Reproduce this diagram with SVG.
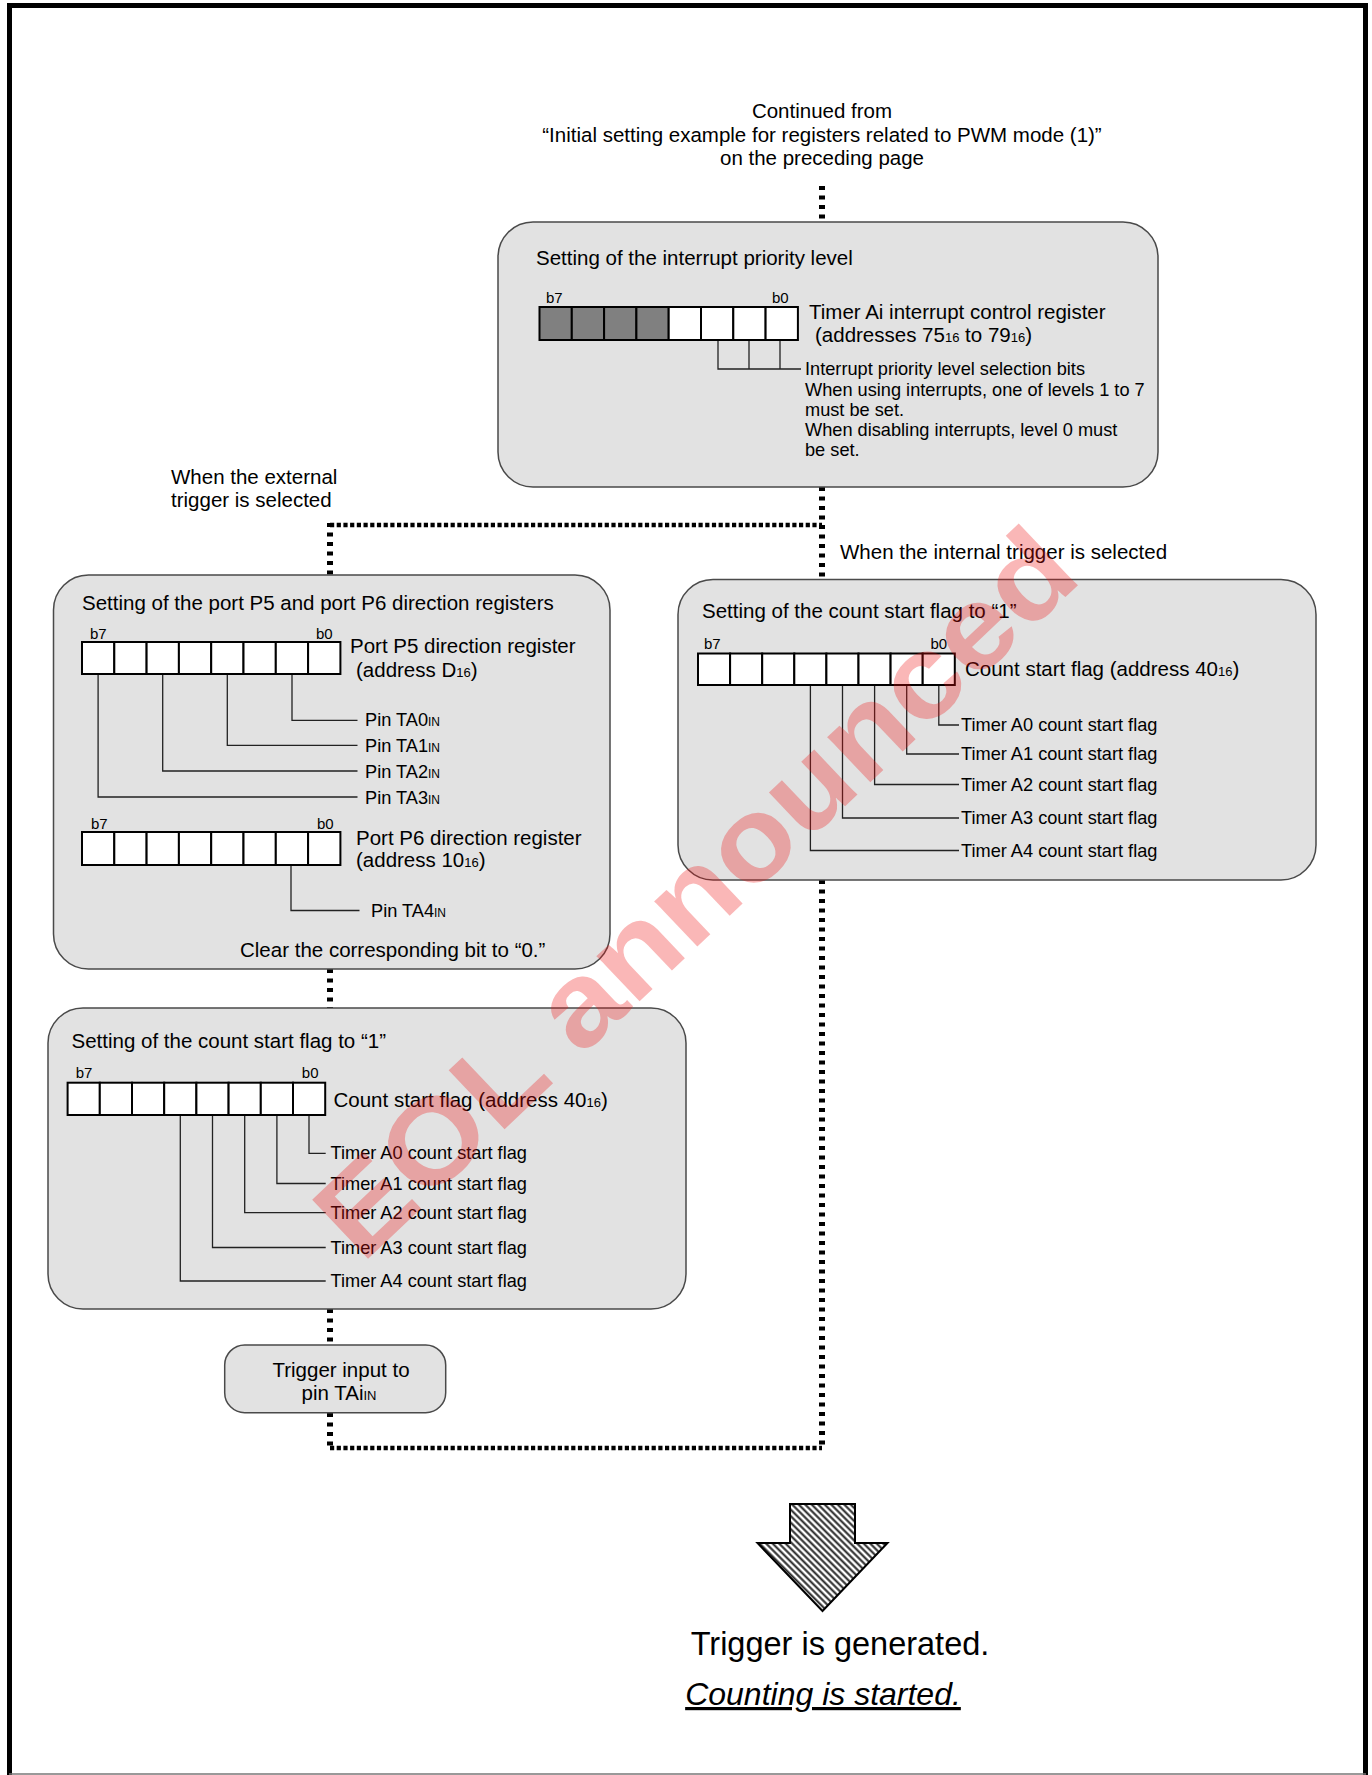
<svg xmlns="http://www.w3.org/2000/svg" width="1372" height="1775" viewBox="0 0 1372 1775">
<defs>
<style>
text{font-family:"Liberation Sans",Arial,sans-serif;fill:#000}
.t20{font-size:20.5px}
.t18{font-size:18.2px}
.bl{font-size:15px}
.sub{font-size:13px}
.sub12{font-size:12px}
.box{fill:#e2e2e2;stroke:#4a4a4a;stroke-width:1.5}
.cell{fill:#fff;stroke:#000;stroke-width:2}
.cellg{fill:#808080;stroke:#000;stroke-width:2}
.lead{fill:none;stroke:#222;stroke-width:1.3}
.dv{fill:none;stroke:#000;stroke-width:6;stroke-dasharray:4 5.5}
.dh{fill:none;stroke:#000;stroke-width:4.5;stroke-dasharray:4.2 2.5}
</style>
<pattern id="hatch" width="4.6" height="4.6" patternUnits="userSpaceOnUse" patternTransform="rotate(-45)">
<rect width="4.6" height="4.6" fill="#fff"/>
<line x1="2.3" y1="0" x2="2.3" y2="4.6" stroke="#222" stroke-width="2"/>
</pattern>
</defs>
<rect x="0" y="0" width="1372" height="1775" fill="#fff"/>
<rect x="9.5" y="5.5" width="1356" height="1800" fill="none" stroke="#000" stroke-width="5"/>
<line x1="9" y1="1774" x2="1366" y2="1774" stroke="#777" stroke-width="1.5"/>

<g id="continued-label">
<text class="t20" x="822" y="118" text-anchor="middle">Continued from</text>
<text class="t20" x="822" y="141.7" text-anchor="middle">“Initial setting example for registers related to PWM mode (1)”</text>
<text class="t20" x="822" y="165" text-anchor="middle">on the preceding page</text>
</g>

<g id="connectors">
<line class="dv" x1="822" y1="186" x2="822" y2="222"/>
<line class="dv" x1="822" y1="487" x2="822" y2="580"/>
<line class="dh" x1="330" y1="525" x2="822" y2="525"/>
<line class="dv" x1="330" y1="523" x2="330" y2="575"/>
<line class="dv" x1="330" y1="969" x2="330" y2="1008"/>
<line class="dv" x1="330" y1="1309" x2="330" y2="1345"/>
<line class="dv" x1="330" y1="1413" x2="330" y2="1448"/>
<line class="dh" x1="330" y1="1448" x2="822" y2="1448"/>
<line class="dv" x1="822" y1="880" x2="822" y2="1450"/>
</g>

<g id="label-external">
<text class="t20" x="171" y="484.4">When the external</text>
<text class="t20" x="171" y="506.8">trigger is selected</text>
</g>
<g id="label-internal">
<text class="t20" x="840" y="559">When the internal trigger is selected</text>
</g>

<g id="box-interrupt-priority">
<rect class="box" x="498" y="222" width="660" height="265" rx="35"/>
<text class="t20" x="536" y="265">Setting of the interrupt priority level</text>
<text class="bl" x="546" y="303">b7</text>
<text class="bl" x="772" y="303">b0</text>
<rect class="cellg" x="539.5" y="307" width="32.3" height="33"/>
<rect class="cellg" x="571.8" y="307" width="32.3" height="33"/>
<rect class="cellg" x="604.1" y="307" width="32.3" height="33"/>
<rect class="cellg" x="636.4" y="307" width="32.3" height="33"/>
<rect class="cell" x="668.7" y="307" width="32.3" height="33"/>
<rect class="cell" x="701" y="307" width="32.3" height="33"/>
<rect class="cell" x="733.3" y="307" width="32.3" height="33"/>
<rect class="cell" x="765.6" y="307" width="32.3" height="33"/>
<text class="t20" x="809" y="319">Timer Ai interrupt control register</text>
<text class="t20" x="815" y="342">(addresses 75<tspan class="sub">16</tspan> to 79<tspan class="sub">16</tspan>)</text>
<path class="lead" d="M718 341V369H801M749 341V369M780 341V369"/>
<text class="t18" x="805" y="375">Interrupt priority level selection bits</text>
<text class="t18" x="805" y="395.5">When using interrupts, one of levels 1 to 7</text>
<text class="t18" x="805" y="415.5">must be set.</text>
<text class="t18" x="805" y="436">When disabling interrupts, level 0 must</text>
<text class="t18" x="805" y="456">be set.</text>
</g>

<g id="box-port-direction">
<rect class="box" x="53.5" y="575" width="556.5" height="394" rx="35"/>
<text class="t20" x="82" y="610">Setting of the port P5 and port P6 direction registers</text>
<text class="bl" x="90" y="638.7">b7</text>
<text class="bl" x="316" y="638.7">b0</text>
<rect class="cell" x="82" y="642" width="32.3" height="32"/>
<rect class="cell" x="114.3" y="642" width="32.3" height="32"/>
<rect class="cell" x="146.6" y="642" width="32.3" height="32"/>
<rect class="cell" x="178.9" y="642" width="32.3" height="32"/>
<rect class="cell" x="211.2" y="642" width="32.3" height="32"/>
<rect class="cell" x="243.5" y="642" width="32.3" height="32"/>
<rect class="cell" x="275.8" y="642" width="32.3" height="32"/>
<rect class="cell" x="308.1" y="642" width="32.3" height="32"/>
<text class="t20" x="350" y="653">Port P5 direction register</text>
<text class="t20" x="356" y="676.5">(address D<tspan class="sub">16</tspan>)</text>
<path class="lead" d="M292 675V720.3H357.5M227.3 675V745.4H357.5M162.7 675V771H357.5M98.1 675V797H357.5"/>
<text class="t18" x="365" y="726">Pin TA0<tspan class="sub12">IN</tspan></text>
<text class="t18" x="365" y="751.5">Pin TA1<tspan class="sub12">IN</tspan></text>
<text class="t18" x="365" y="777.5">Pin TA2<tspan class="sub12">IN</tspan></text>
<text class="t18" x="365" y="803.5">Pin TA3<tspan class="sub12">IN</tspan></text>
<text class="bl" x="91" y="828.8">b7</text>
<text class="bl" x="317" y="828.8">b0</text>
<rect class="cell" x="82" y="832" width="32.3" height="33"/>
<rect class="cell" x="114.3" y="832" width="32.3" height="33"/>
<rect class="cell" x="146.6" y="832" width="32.3" height="33"/>
<rect class="cell" x="178.9" y="832" width="32.3" height="33"/>
<rect class="cell" x="211.2" y="832" width="32.3" height="33"/>
<rect class="cell" x="243.5" y="832" width="32.3" height="33"/>
<rect class="cell" x="275.8" y="832" width="32.3" height="33"/>
<rect class="cell" x="308.1" y="832" width="32.3" height="33"/>
<text class="t20" x="356" y="844.5">Port P6 direction register</text>
<text class="t20" x="356" y="866.5">(address 10<tspan class="sub">16</tspan>)</text>
<path class="lead" d="M291 866V910.5H359.5"/>
<text class="t18" x="371" y="917">Pin TA4<tspan class="sub12">IN</tspan></text>
<text class="t20" x="240" y="956.5">Clear the corresponding bit to “0.”</text>
</g>

<g id="box-count-start-internal">
<rect class="box" x="678" y="579.5" width="638" height="300.5" rx="35"/>
<text class="t20" x="702" y="617.5">Setting of the count start flag to “1”</text>
<text class="bl" x="704" y="649">b7</text>
<text class="bl" x="930.5" y="649">b0</text>
<rect class="cell" x="698" y="653.5" width="32.1" height="31.5"/>
<rect class="cell" x="730.1" y="653.5" width="32.1" height="31.5"/>
<rect class="cell" x="762.2" y="653.5" width="32.1" height="31.5"/>
<rect class="cell" x="794.3" y="653.5" width="32.1" height="31.5"/>
<rect class="cell" x="826.4" y="653.5" width="32.1" height="31.5"/>
<rect class="cell" x="858.5" y="653.5" width="32.1" height="31.5"/>
<rect class="cell" x="890.6" y="653.5" width="32.1" height="31.5"/>
<rect class="cell" x="922.7" y="653.5" width="32.1" height="31.5"/>
<text class="t20" x="965" y="676">Count start flag (address 40<tspan class="sub">16</tspan>)</text>
<path class="lead" d="M938.8 686V725H959M906.7 686V754H959M874.6 686V784.5H959M842.5 686V818H959M810.4 686V850.5H959"/>
<text class="t18" x="961" y="731">Timer A0 count start flag</text>
<text class="t18" x="961" y="760">Timer A1 count start flag</text>
<text class="t18" x="961" y="790.5">Timer A2 count start flag</text>
<text class="t18" x="961" y="824">Timer A3 count start flag</text>
<text class="t18" x="961" y="856.5">Timer A4 count start flag</text>
</g>

<g id="box-count-start-external">
<rect class="box" x="48" y="1008" width="638" height="301" rx="35"/>
<text class="t20" x="71.5" y="1048">Setting of the count start flag to “1”</text>
<text class="bl" x="75.7" y="1078">b7</text>
<text class="bl" x="301.8" y="1078">b0</text>
<rect class="cell" x="67.6" y="1082.7" width="32.2" height="32.3"/>
<rect class="cell" x="99.8" y="1082.7" width="32.2" height="32.3"/>
<rect class="cell" x="132" y="1082.7" width="32.2" height="32.3"/>
<rect class="cell" x="164.2" y="1082.7" width="32.2" height="32.3"/>
<rect class="cell" x="196.4" y="1082.7" width="32.2" height="32.3"/>
<rect class="cell" x="228.6" y="1082.7" width="32.2" height="32.3"/>
<rect class="cell" x="260.8" y="1082.7" width="32.2" height="32.3"/>
<rect class="cell" x="293" y="1082.7" width="32.2" height="32.3"/>
<text class="t20" x="333.5" y="1106.5">Count start flag (address 40<tspan class="sub">16</tspan>)</text>
<path class="lead" d="M309 1116V1153.3H325.7M276.9 1116V1183.5H325.7M244.7 1116V1212.7H325.7M212.5 1116V1247.5H325.7M180.3 1116V1281H325.7"/>
<text class="t18" x="330.5" y="1159">Timer A0 count start flag</text>
<text class="t18" x="330.5" y="1189.5">Timer A1 count start flag</text>
<text class="t18" x="330.5" y="1218.5">Timer A2 count start flag</text>
<text class="t18" x="330.5" y="1253.5">Timer A3 count start flag</text>
<text class="t18" x="330.5" y="1287">Timer A4 count start flag</text>
</g>

<g id="box-trigger-input">
<rect class="box" x="224.7" y="1345" width="221" height="67.7" rx="20"/>
<text class="t20" x="341" y="1377" text-anchor="middle">Trigger input to</text>
<text class="t20" x="339" y="1400" text-anchor="middle">pin TAi<tspan class="sub">IN</tspan></text>
</g>

<g id="result-arrow">
<polygon points="790,1504 855,1504 855,1543 887.5,1543 822.5,1611 757.5,1543 790,1543" fill="url(#hatch)" stroke="#000" stroke-width="2"/>
</g>
<g id="result-text">
<text x="840" y="1655" text-anchor="middle" style="font-size:32.5px">Trigger is generated.</text>
<text x="823" y="1705" text-anchor="middle" style="font-size:32px;font-style:italic;text-decoration:underline">Counting is started.</text>
</g>

<g id="watermark">
<text x="0" y="0" text-anchor="middle" transform="translate(723,922) rotate(-43.5)" textLength="996" lengthAdjust="spacingAndGlyphs" style="font-size:118px;font-weight:bold;fill:#ee1111;fill-opacity:0.3">EOL announced</text>
</g>
</svg>
